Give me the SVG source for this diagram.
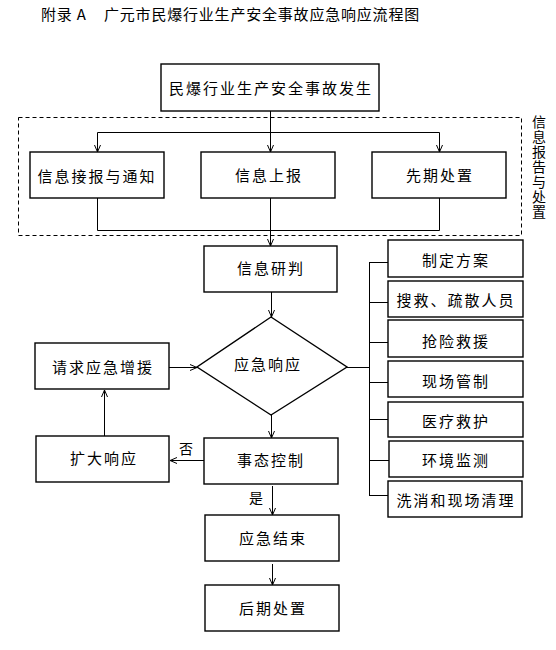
<svg xmlns="http://www.w3.org/2000/svg" width="556" height="650" viewBox="0 0 556 650">
<defs>
<style>
.box{fill:#fff;stroke:#000;stroke-width:1.4}
.ln{fill:none;stroke:#000;stroke-width:1}
.t{font-family:"Noto Sans CJK SC","Liberation Sans",sans-serif;font-size:15px;fill:#000;text-anchor:middle;dominant-baseline:central;letter-spacing:2px}
.s{font-family:"Noto Sans CJK SC","Liberation Sans",sans-serif;font-size:14px;fill:#000;text-anchor:middle;dominant-baseline:central}
</style>
<marker id="ah" viewBox="0 0 8 8" refX="8" refY="4" markerWidth="8" markerHeight="8" markerUnits="userSpaceOnUse" orient="auto">
<path d="M1,1 L8,4 L1,7" fill="none" stroke="#000" stroke-width="1"/>
</marker>
</defs>
<rect width="556" height="650" fill="#fff"/>
<text x="41" y="13" font-family="'Noto Sans CJK SC','Liberation Sans',sans-serif" font-size="15" fill="#000" dominant-baseline="central" letter-spacing="0.8">附录 A<tspan x="104">广元市民爆行业生产安全事故应急响应流程图</tspan></text>

<rect x="18.5" y="117.5" width="503" height="118" fill="none" stroke="#000" stroke-width="1" stroke-dasharray="4,3"/>
<g id="label-vertical">
<text x="539" y="115" font-family="'Noto Sans CJK SC','Liberation Sans',sans-serif" font-size="14" fill="#000" style="writing-mode:vertical-rl" letter-spacing="1">信息报告与处置</text>
</g>

<g id="connectors">
<line class="ln" x1="270.5" y1="111" x2="270.5" y2="152" marker-end="url(#ah)"/>
<polyline class="ln" points="97.5,152 97.5,132.5 439.5,132.5 439.5,152"/>
<line class="ln" x1="97.5" y1="140" x2="97.5" y2="152" marker-end="url(#ah)"/>
<line class="ln" x1="439.5" y1="140" x2="439.5" y2="152" marker-end="url(#ah)"/>
<polyline class="ln" points="97.5,198 97.5,230.5 439.5,230.5 439.5,198"/>
<line class="ln" x1="270.5" y1="198" x2="270.5" y2="246" marker-end="url(#ah)"/>
<line class="ln" x1="271.5" y1="292" x2="271.5" y2="317" marker-end="url(#ah)"/>
<line class="ln" x1="347" y1="367.5" x2="369.5" y2="367.5"/>
<line class="ln" x1="369.5" y1="262" x2="369.5" y2="496"/>
<line class="ln" x1="369.5" y1="262.5" x2="388" y2="262.5"/>
<line class="ln" x1="369.5" y1="302.5" x2="388" y2="302.5"/>
<line class="ln" x1="369.5" y1="342.5" x2="388" y2="342.5"/>
<line class="ln" x1="369.5" y1="382.5" x2="388" y2="382.5"/>
<line class="ln" x1="369.5" y1="419.5" x2="388" y2="419.5"/>
<line class="ln" x1="369.5" y1="460.5" x2="389" y2="460.5"/>
<line class="ln" x1="369.5" y1="495.5" x2="388" y2="495.5"/>
<line class="ln" x1="169" y1="367.5" x2="197" y2="367.5" marker-end="url(#ah)"/>
<line class="ln" x1="271.5" y1="415" x2="271.5" y2="438" marker-end="url(#ah)"/>
<line class="ln" x1="204" y1="460.5" x2="170" y2="460.5" marker-end="url(#ah)"/>
<line class="ln" x1="104.5" y1="436" x2="104.5" y2="390" marker-end="url(#ah)"/>
<line class="ln" x1="272.5" y1="486" x2="272.5" y2="515" marker-end="url(#ah)"/>
<line class="ln" x1="272.5" y1="564" x2="272.5" y2="585" marker-end="url(#ah)"/>
<text class="s" x="186" y="448">否</text>
<text class="s" x="256" y="497">是</text>
</g>

<g id="n-start"><rect class="box" x="161" y="64" width="218" height="47"/><text class="t" x="271" y="87">民爆行业生产安全事故发生</text></g>
<g id="n-notify"><rect class="box" x="30" y="152" width="134" height="46"/><text class="t" x="97" y="175">信息接报与通知</text></g>
<g id="n-report"><rect class="box" x="201" y="152" width="134" height="46"/><text class="t" x="269" y="174">信息上报</text></g>
<g id="n-first"><rect class="box" x="372" y="152" width="134" height="46"/><text class="t" x="440" y="174">先期处置</text></g>
<g id="n-judge"><rect class="box" x="204" y="246" width="133" height="46"/><text class="t" x="271" y="267">信息研判</text></g>
<g id="n-response"><polygon class="box" points="271,317 347,367 271,415 197,367"/><text class="t" x="268" y="363">应急响应</text></g>
<g id="n-request"><rect class="box" x="35" y="343" width="134" height="46"/><text class="t" x="103" y="366">请求应急增援</text></g>
<g id="n-control"><rect class="box" x="204" y="438" width="134" height="46"/><text class="t" x="271" y="459">事态控制</text></g>
<g id="n-expand"><rect class="box" x="36" y="436" width="133" height="46"/><text class="t" x="104" y="457">扩大响应</text></g>
<g id="n-end"><rect class="box" x="205" y="515" width="134" height="46"/><text class="t" x="273" y="537">应急结束</text></g>
<g id="n-after"><rect class="box" x="205" y="585" width="134" height="46"/><text class="t" x="273" y="607">后期处置</text></g>
<g id="n-plan"><rect class="box" x="388" y="240" width="135" height="37"/><text class="t" x="456" y="259">制定方案</text></g>
<g id="n-search"><rect class="box" x="388" y="281" width="135" height="36"/><text class="t" x="456" y="299">搜救、疏散人员</text></g>
<g id="n-rescue"><rect class="box" x="388" y="320" width="135" height="37"/><text class="t" x="456" y="340">抢险救援</text></g>
<g id="n-site"><rect class="box" x="388" y="361" width="135" height="36"/><text class="t" x="456" y="380">现场管制</text></g>
<g id="n-medical"><rect class="box" x="388" y="402" width="135" height="35"/><text class="t" x="456" y="420">医疗救护</text></g>
<g id="n-env"><rect class="box" x="389" y="441" width="134" height="36"/><text class="t" x="456" y="459">环境监测</text></g>
<g id="n-clean"><rect class="box" x="388" y="481" width="134" height="36"/><text class="t" x="456" y="499">洗消和现场清理</text></g>
</svg>
